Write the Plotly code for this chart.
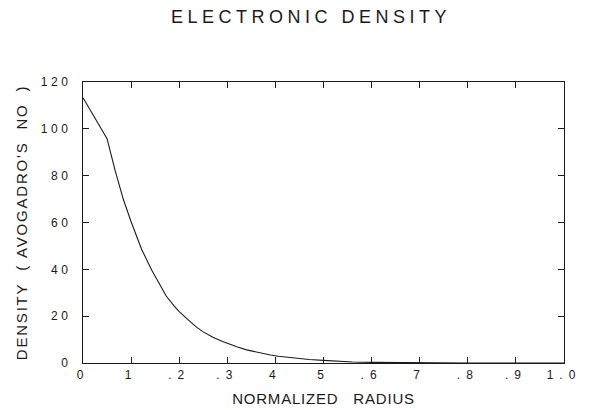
import plotly.graph_objects as go

# Data
radius = [0.0, 0.05, 0.067, 0.084, 0.10, 0.113, 0.122, 0.143, 0.16, 0.173,
          0.19, 0.20, 0.22, 0.236, 0.25, 0.27, 0.29, 0.305, 0.32, 0.34,
          0.36, 0.374, 0.39, 0.406, 0.425, 0.444, 0.47, 0.50, 0.53, 0.56,
          0.60, 0.65, 0.70, 0.80, 0.90, 1.0]
density = [113.3, 95.8, 82.0, 69.8, 60.3, 53.2, 48.5, 39.6, 33.0, 28.6,
           24.2, 21.9, 18.2, 15.3, 13.3, 11.0, 9.2, 7.9, 6.9, 5.6,
           4.6, 3.9, 3.4, 2.9, 2.4, 2.0, 1.5, 1.1, 0.7, 0.45,
           0.28, 0.15, 0.08, 0.02, 0.005, 0.0]

x_tickvals = [0, 0.1, 0.2, 0.3, 0.4, 0.5, 0.6, 0.7, 0.8, 0.9, 1.0]
x_ticktext = ["0", "1", ".2", ".3", "4", "5", ".6", "7", ".8", ".9", "1.0"]
y_tickvals = [0, 20, 40, 60, 80, 100, 120]
y_ticktext = ["0", "20", "40", "60", "80", "100", "120"]

title_text = "ELECTRONIC DENSITY"
x_title = "NORMALIZED\u00a0\u00a0\u00a0RADIUS"
y_title = "DENSITY\u00a0\u00a0(\u00a0AVOGADRO'S\u00a0\u00a0NO\u00a0\u00a0)"

FONT = "Liberation Sans, Arial, sans-serif"
INK = "#1a1a1a"


def spaced(t, px):
    return f'<span style="letter-spacing:{px}px">{t}</span>'


fig = go.Figure()
fig.add_trace(go.Scatter(x=radius, y=density, mode="lines",
                         line=dict(color=INK, width=1.1), showlegend=False,
                         hoverinfo="skip"))

fig.update_layout(
    width=590, height=410,
    margin=dict(l=83, r=26, t=82, b=47),
    paper_bgcolor="white", plot_bgcolor="white",
    font=dict(family=FONT, color=INK),
    title=dict(text=spaced(title_text, 4.5), x=0.527, xanchor="center",
               y=1 - 17 / 410, yanchor="middle",
               font=dict(size=18, family=FONT, color=INK)),
)

fig.update_xaxes(
    range=[0, 1.0], tickmode="array", tickvals=x_tickvals,
    ticktext=[spaced(t, 6) for t in x_ticktext],
    ticks="inside", ticklen=6, tickwidth=1.2, tickcolor=INK,
    showline=True, linecolor=INK, linewidth=1.4, mirror="ticks",
    showgrid=False, zeroline=False, automargin=False,
    tickfont=dict(size=12, family=FONT, color=INK),
    title=dict(text=spaced(x_title, 0.8), standoff=12,
               font=dict(size=15, family=FONT, color=INK)),
)
fig.update_yaxes(
    range=[0, 120], tickmode="array", tickvals=y_tickvals,
    ticktext=[spaced(t, 3.5) for t in y_ticktext],
    ticks="inside", ticklen=6, tickwidth=1.2, tickcolor=INK,
    showline=True, linecolor=INK, linewidth=1.4, mirror="ticks",
    showgrid=False, zeroline=False, automargin=False,
    ticklabelstandoff=8,
    tickfont=dict(size=12, family=FONT, color=INK),
    title=dict(text=spaced(y_title, 1.8), standoff=9,
               font=dict(size=15, family=FONT, color=INK)),
)

fig.write_html("out.html")
